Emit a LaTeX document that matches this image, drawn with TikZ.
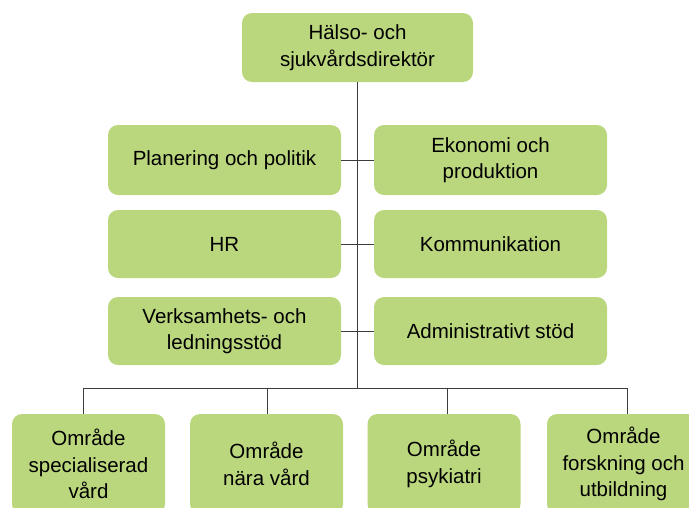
\documentclass[tikz,border=0pt]{standalone}
\usepackage{fontspec}
\setmainfont{Liberation Sans}
\definecolor{boxgreen}{RGB}{187,215,126}
\definecolor{linegray}{RGB}{60,60,60}
\begin{document}
\begin{tikzpicture}[x=1pt,y=-1pt,
  orgbox/.style={fill=boxgreen, draw=none, rounded corners=10pt, align=center,
    inner sep=0pt, font=\fontsize{20.5}{26.5}\selectfont},
  conn/.style={draw=linegray, line width=1pt}]
\useasboundingbox (0,0) rectangle (689,507);
\clip (0,0) rectangle (689,507);
% top
\node[orgbox, minimum width=231pt, minimum height=69pt] (top) at (357.5,47.5) {Hälso- och\\sjukvårdsdirektör};
% staff rows
\node[orgbox, minimum width=233pt, minimum height=70pt] (pp) at (224.5,160) {Planering och politik};
\node[orgbox, minimum width=233pt, minimum height=70pt] (ep) at (490.5,160) {Ekonomi och\\produktion};
\node[orgbox, minimum width=233pt, minimum height=68pt] (hr) at (224.5,244) {HR};
\node[orgbox, minimum width=233pt, minimum height=68pt] (ko) at (490.5,244) {Kommunikation};
\node[orgbox, minimum width=233pt, minimum height=68pt] (vl) at (224.5,331) {Verksamhets- och\\ledningsstöd};
\node[orgbox, minimum width=233pt, minimum height=68pt] (as) at (490.5,331) {Administrativt stöd};
% bottom
\node[orgbox, minimum width=153pt, minimum height=100pt] (b1) at (88.5,464) {Område\\specialiserad\\vård};
\node[orgbox, minimum width=153pt, minimum height=100pt] (b2) at (266.5,464) {Område\\nära vård};
\node[orgbox, minimum width=153pt, minimum height=100pt] (b3) at (444,464) {Område\\psykiatri};
\node[orgbox, minimum width=153pt, minimum height=100pt] (b4) at (623.5,464) {Område\\forskning och\\utbildning};
% connectors
\coordinate (bus) at (357,388);
\coordinate (d1) at (83,388);
\coordinate (d2) at (267,388);
\coordinate (d3) at (447,388);
\coordinate (d4) at (627,388);
\draw[conn] (top.south -| bus) -- (bus);
\draw[conn] (pp.east) -- (ep.west);
\draw[conn] (hr.east) -- (ko.west);
\draw[conn] (vl.east) -- (as.west);
\draw[conn] (d1) -- (d4);
\draw[conn] (d1) -- (d1 |- b1.north);
\draw[conn] (d2) -- (d2 |- b2.north);
\draw[conn] (d3) -- (d3 |- b3.north);
\draw[conn] (d4) -- (d4 |- b4.north);
\end{tikzpicture}
\end{document}
